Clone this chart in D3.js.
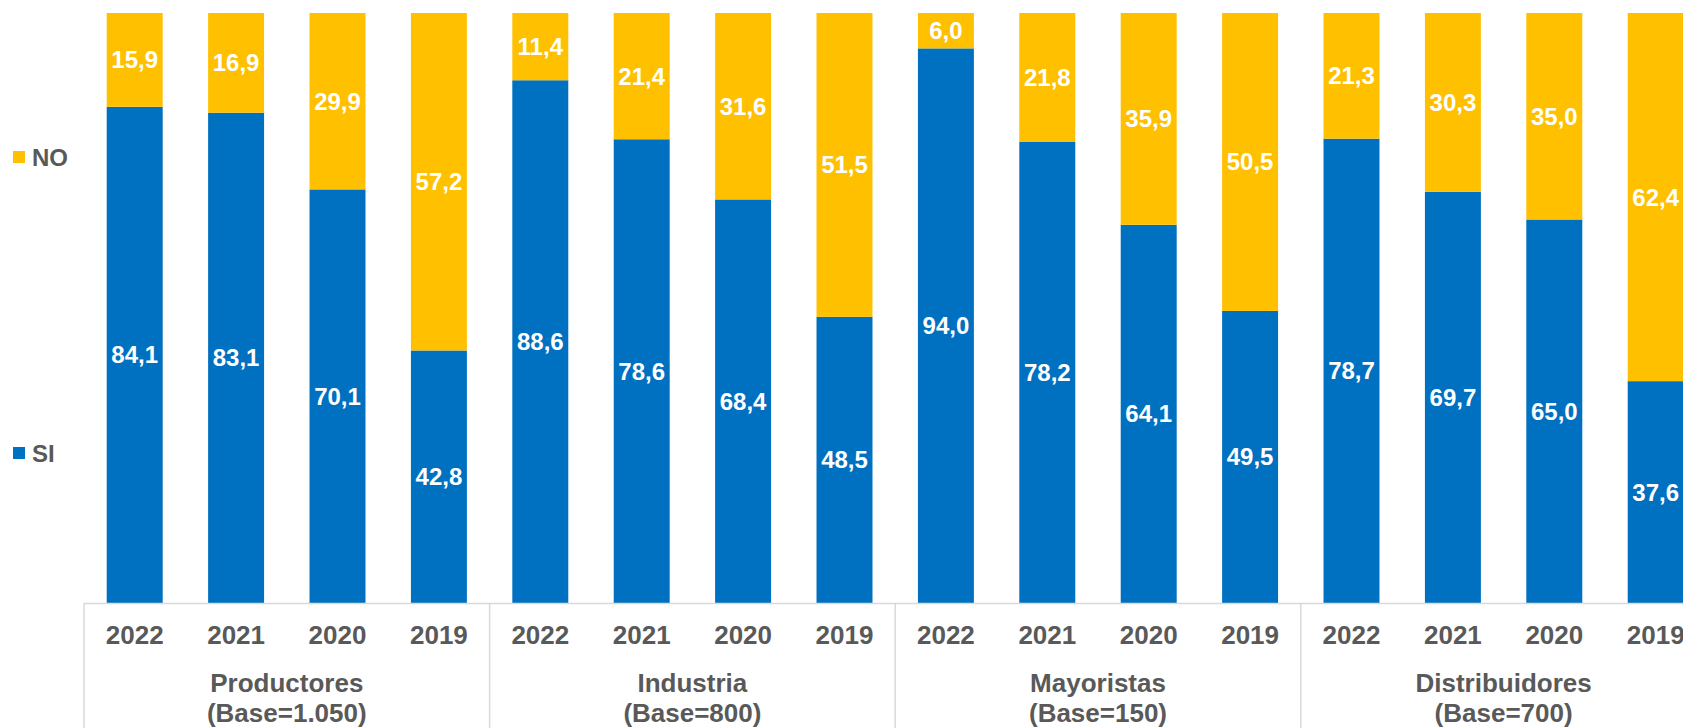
<!DOCTYPE html>
<html>
<head>
<meta charset="utf-8">
<script src="https://cdn.jsdelivr.net/npm/d3@7"></script>
<style>
  body { margin: 0; background: #fff; overflow: hidden; }
  svg { display: block; font-family: "Liberation Sans", Arial, sans-serif; font-weight: bold; }
</style>
</head>
<body>
<div id="chart"></div>
<script>
// Groups, years and the two series, in order of appearance
const groups = ['Productores', 'Industria', 'Mayoristas', 'Distribuidores'];
const bases = ['(Base=1.050)', '(Base=800)', '(Base=150)', '(Base=700)'];
const years = ['2022', '2021', '2020', '2019'];
const siValues = [
  [84.1, 83.1, 70.1, 42.8],
  [88.6, 78.6, 68.4, 48.5],
  [94.0, 78.2, 64.1, 49.5],
  [78.7, 69.7, 65.0, 37.6]
];
const noValues = [
  [15.9, 16.9, 29.9, 57.2],
  [11.4, 21.4, 31.6, 51.5],
  [6.0, 21.8, 35.9, 50.5],
  [21.3, 30.3, 35.0, 62.4]
];
const seriesNames = ['NO', 'SI'];

const chartWidth = 1683;
const chartHeight = 728;
const colors = { SI: '#0070C0', NO: '#FFC000' };
const textGrey = '#595959';
const lineGrey = '#d9d9d9';

// plot area
const plotLeft = 84;
const groupWidth = 405.6;
const plotTop = 13;
const axisY = 603;

const svg = d3.select('#chart').append('svg')
  .attr('width', chartWidth)
  .attr('height', chartHeight);

const x0 = d3.scaleBand()
  .domain(groups)
  .range([plotLeft, plotLeft + groupWidth * groups.length]);

const x1 = d3.scaleBand()
  .domain(years)
  .range([0, x0.bandwidth()])
  .paddingInner(0.448)
  .paddingOuter(0.224);

const y = d3.scaleLinear().domain([0, 100]).range([axisY, plotTop]);

// flatten into one row per bar
let rows = [];
groups.forEach(function(g, gi) {
  years.forEach(function(yr, yi) {
    rows.push({ group: g, year: yr, si: siValues[gi][yi], no: noValues[gi][yi] });
  });
});

const bars = svg.append('g').selectAll('g')
  .data(rows)
  .join('g')
  .attr('transform', d => 'translate(' + (x0(d.group) + x1(d.year)) + ',0)');

// SI at bottom
bars.append('rect')
  .attr('x', 0)
  .attr('width', x1.bandwidth())
  .attr('y', d => y(d.si))
  .attr('height', d => y(0) - y(d.si))
  .attr('fill', colors.SI);

// NO stacked on top
bars.append('rect')
  .attr('x', 0)
  .attr('width', x1.bandwidth())
  .attr('y', d => y(d.si + d.no))
  .attr('height', d => y(d.si) - y(d.si + d.no))
  .attr('fill', colors.NO);

const fmt = v => v.toFixed(1).replace('.', ',');

bars.append('text')
  .attr('x', x1.bandwidth() / 2)
  .attr('y', d => (y(0) + y(d.si)) / 2)
  .attr('text-anchor', 'middle')
  .attr('dominant-baseline', 'central')
  .attr('fill', '#fff')
  .style('font-size', '24px')
  .text(d => fmt(d.si));

bars.append('text')
  .attr('x', x1.bandwidth() / 2)
  .attr('y', d => (y(d.si) + y(d.si + d.no)) / 2)
  .attr('text-anchor', 'middle')
  .attr('dominant-baseline', 'central')
  .attr('fill', '#fff')
  .style('font-size', '24px')
  .text(d => fmt(d.no));

// category axis: baseline and group separators
const axis = svg.append('g');
axis.append('line')
  .attr('x1', plotLeft).attr('x2', chartWidth)
  .attr('y1', axisY + 0.5).attr('y2', axisY + 0.5)
  .attr('stroke', lineGrey).attr('stroke-width', 1.5);

axis.selectAll('line.sep')
  .data(groups)
  .join('line')
  .attr('class', 'sep')
  .attr('x1', d => x0(d)).attr('x2', d => x0(d))
  .attr('y1', axisY).attr('y2', chartHeight)
  .attr('stroke', lineGrey).attr('stroke-width', 1.5);

// year labels
axis.selectAll('text.year')
  .data(rows)
  .join('text')
  .attr('class', 'year')
  .attr('x', d => x0(d.group) + x1(d.year) + x1.bandwidth() / 2)
  .attr('y', 635)
  .attr('text-anchor', 'middle')
  .attr('dominant-baseline', 'central')
  .attr('fill', textGrey)
  .style('font-size', '26px')
  .text(d => d.year);

// group labels, two lines
const groupLabels = axis.selectAll('text.group')
  .data(groups)
  .join('text')
  .attr('class', 'group')
  .attr('text-anchor', 'middle')
  .attr('fill', textGrey)
  .style('font-size', '26px');

groupLabels.append('tspan')
  .attr('x', d => x0(d) + x0.bandwidth() / 2)
  .attr('y', 683)
  .attr('dominant-baseline', 'central')
  .text(d => d);

groupLabels.append('tspan')
  .attr('x', d => x0(d) + x0.bandwidth() / 2)
  .attr('y', 713)
  .attr('dominant-baseline', 'central')
  .text((d, i) => bases[i]);

// legend on the left
const legendY = { NO: 157, SI: 453 };
const legend = svg.append('g').selectAll('g')
  .data(seriesNames)
  .join('g')
  .attr('transform', d => 'translate(13,' + legendY[d] + ')');

legend.append('rect')
  .attr('x', 0).attr('y', -6)
  .attr('width', 12).attr('height', 12)
  .attr('fill', d => colors[d]);

legend.append('text')
  .attr('x', 19)
  .attr('y', 0)
  .attr('dominant-baseline', 'central')
  .attr('fill', textGrey)
  .style('font-size', '24px')
  .text(d => d);
</script>
</body>
</html>
